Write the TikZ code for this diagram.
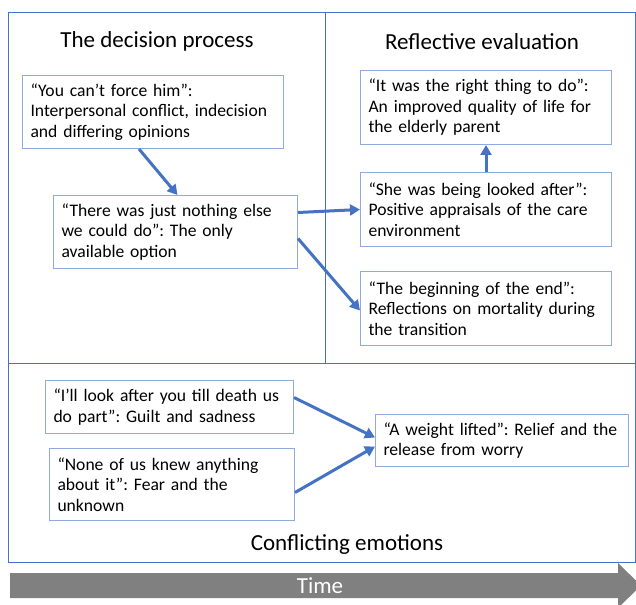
\documentclass[tikz,border=0pt]{standalone}
\usepackage{fontspec}
\setmainfont{Carlito}
\usetikzlibrary{arrows.meta,calc}
\definecolor{frame}{RGB}{68,114,196}
\definecolor{edge}{RGB}{143,170,220}
\definecolor{timegrey}{RGB}{128,128,128}
\tikzset{
  arr/.style={-{Triangle[length=10pt,width=11pt]},line width=3pt,draw=frame},
  quote/.style={draw=edge,line width=1pt,fill=white,anchor=north west,align=left,
    inner xsep=8pt,font=\fontsize{17.6}{20.5}\selectfont},
  head/.style={font=\fontsize{23}{27}\selectfont}
}

\begin{document}
\frenchspacing
\begin{tikzpicture}[x=1pt,y=-1pt]
  \useasboundingbox (0,0) rectangle (636,604);
  \clip (0,0) rectangle (636,604);

  % panels
  \draw[frame,line width=1pt] (8,13) rectangle (635,562);
  \draw[frame,line width=1pt] (325,13)--(325,363) (8,363)--(635,363);

  \node[head] (decision) at (157,41) {The decision process};
  \node[head] (reflect) at (482,42) {Reflective evaluation};
  \node[head] (emotions) at (347,545) {Conflicting emotions};

  % the decision process
  \node[quote,text width=245pt,minimum height=73pt] (force) at (22,75)
    {“You can’t force him”:\\Interpersonal conflict, indecision\\and differing opinions};
  \node[quote,text width=228pt,minimum height=73pt] (nothing) at (53,195)
    {“There was just nothing else\\we could do”: The only\\available option};

  % reflective evaluation
  \node[quote,text width=235pt,minimum height=74pt] (right) at (360,70)
    {“It was the right thing to do”:\\An improved quality of life for\\the elderly parent};
  \node[quote,text width=235pt,minimum height=74pt] (looked) at (360,172)
    {“She was being looked after”:\\Positive appraisals of the care\\environment};
  \node[quote,text width=235pt,minimum height=74pt] (end) at (360,271)
    {“The beginning of the end”:\\Reflections on mortality during\\the transition};

  % conflicting emotions
  \node[quote,text width=232pt,minimum height=53pt] (guilt) at (45,380)
    {“I’ll look after you till death us\\do part”: Guilt and sadness};
  \node[quote,text width=229pt,minimum height=72pt] (fear) at (49,448)
    {“None of us knew anything\\about it”: Fear and the\\unknown};
  \node[quote,text width=237pt,minimum height=52pt] (relief) at (375,414)
    {“A weight lifted”: Relief and the\\release from worry};

  \draw[arr] ($(force.south)+(-14,0)$) -- ($(nothing.north)+(2,0)$);
  \draw[arr] ($(nothing.east)+(0,-19.5)$) -- (looked.west);
  \draw[arr] ($(nothing.east)+(0,6.5)$) -- ($(end.west)+(0,2)$);
  \draw[arr] (looked.north) -- (right.south);
  \draw[arr] ($(guilt.east)+(0,-9.5)$) -- ($(relief.west)+(0,-3)$);
  \draw[arr] ($(fear.east)+(0,8)$) -- ($(relief.west)+(0,6)$);

  % time axis
  \fill[timegrey] (10,573) -- (618,573) -- (618,563) -- (641,585.5)
    -- (618,608) -- (618,598) -- (10,598) -- cycle;
  \node[font=\fontsize{23}{27}\selectfont,text=white] (time) at (320,586) {Time};
\end{tikzpicture}
\end{document}
